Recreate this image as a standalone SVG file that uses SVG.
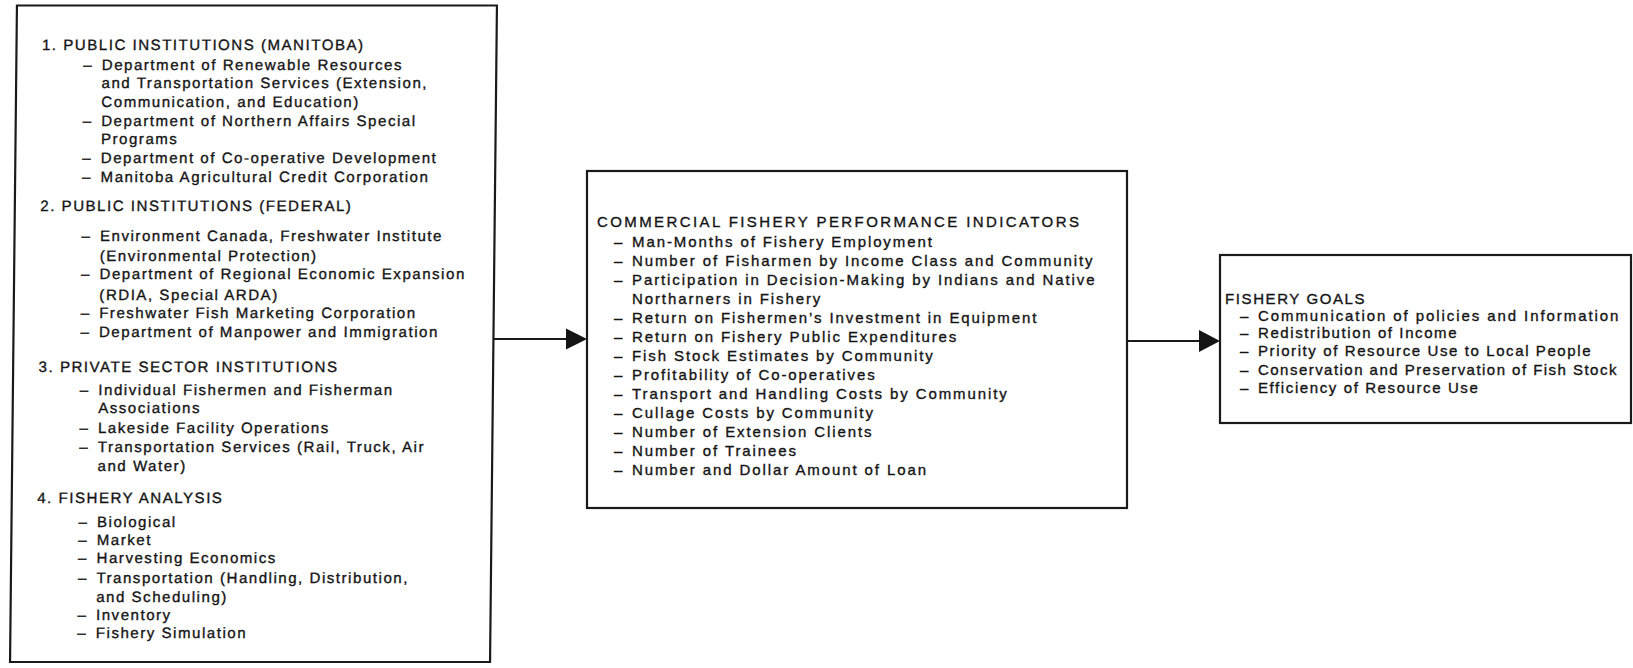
<svg xmlns="http://www.w3.org/2000/svg" width="1633" height="668" viewBox="0 0 1633 668">
<defs>
<style>
.box{fill:none;stroke:#1a1a1a;stroke-width:2.2}
.t{font-family:"Liberation Sans",Arial,sans-serif;font-size:15px;fill:#141414;stroke:#141414;stroke-width:0.35px;letter-spacing:1.55px}
.m{letter-spacing:1.9px}
.mh{letter-spacing:2.4px}
.r{letter-spacing:1.6px}
.ln{stroke:#1a1a1a;stroke-width:2.2;fill:none}
.ah{fill:#141414}
</style>
</defs>
<rect width="1633" height="668" fill="#ffffff"/>

<g id="node-institutions" transform="matrix(1 0 -0.0105 1 3.5 0)">
<rect class="box" x="13.5" y="5.5" width="480" height="656.5"/>
<g class="t">
<text x="39" y="50">1. PUBLIC INSTITUTIONS (MANITOBA)</text>
<text x="80.5" y="70">–<tspan x="99">Department of Renewable Resources</tspan></text>
<text x="99" y="88">and Transportation Services (Extension,</text>
<text x="99" y="107">Communication, and Education)</text>
<text x="80.5" y="126">–<tspan x="99">Department of Northern Affairs Special</tspan></text>
<text x="99" y="144">Programs</text>
<text x="80.5" y="163">–<tspan x="99">Department of Co-operative Development</tspan></text>
<text x="80.5" y="182">–<tspan x="99">Manitoba Agricultural Credit Corporation</tspan></text>
<text x="39" y="211">2. PUBLIC INSTITUTIONS (FEDERAL)</text>
<text x="80.5" y="241">–<tspan x="99">Environment Canada, Freshwater Institute</tspan></text>
<text x="99" y="261">(Environmental Protection)</text>
<text x="80.5" y="279">–<tspan x="99">Department of Regional Economic Expansion</tspan></text>
<text x="99" y="300">(RDIA, Special ARDA)</text>
<text x="80.5" y="318">–<tspan x="99">Freshwater Fish Marketing Corporation</tspan></text>
<text x="80.5" y="337">–<tspan x="99">Department of Manpower and Immigration</tspan></text>
<text x="39" y="372">3. PRIVATE SECTOR INSTITUTIONS</text>
<text x="80.5" y="395">–<tspan x="99">Individual Fishermen and Fisherman</tspan></text>
<text x="99" y="413">Associations</text>
<text x="80.5" y="433">–<tspan x="99">Lakeside Facility Operations</tspan></text>
<text x="80.5" y="452">–<tspan x="99">Transportation Services (Rail, Truck, Air</tspan></text>
<text x="99" y="471">and Water)</text>
<text x="39" y="503">4. FISHERY ANALYSIS</text>
<text x="80.5" y="527">–<tspan x="99">Biological</tspan></text>
<text x="80.5" y="545">–<tspan x="99">Market</tspan></text>
<text x="80.5" y="563">–<tspan x="99">Harvesting Economics</tspan></text>
<text x="80.5" y="583">–<tspan x="99">Transportation (Handling, Distribution,</tspan></text>
<text x="99" y="602">and Scheduling)</text>
<text x="80.5" y="620">–<tspan x="99">Inventory</tspan></text>
<text x="80.5" y="638">–<tspan x="99">Fishery Simulation</tspan></text>
</g>
</g>

<g id="node-indicators">
<rect class="box" x="587" y="171" width="540" height="337"/>
<g class="t m">
<text class="mh" x="597" y="227">COMMERCIAL FISHERY PERFORMANCE INDICATORS</text>
<text x="614" y="247">–<tspan x="632">Man-Months of Fishery Employment</tspan></text>
<text x="614" y="266">–<tspan x="632">Number of Fisharmen by Income Class and Community</tspan></text>
<text x="614" y="285">–<tspan x="632">Participation in Decision-Making by Indians and Native</tspan></text>
<text x="632" y="304">Northarners in Fishery</text>
<text x="614" y="323">–<tspan x="632">Return on Fishermen’s Investment in Equipment</tspan></text>
<text x="614" y="342">–<tspan x="632">Return on Fishery Public Expenditures</tspan></text>
<text x="614" y="361">–<tspan x="632">Fish Stock Estimates by Community</tspan></text>
<text x="614" y="380">–<tspan x="632">Profitability of Co-operatives</tspan></text>
<text x="614" y="399">–<tspan x="632">Transport and Handling Costs by Community</tspan></text>
<text x="614" y="418">–<tspan x="632">Cullage Costs by Community</tspan></text>
<text x="614" y="437">–<tspan x="632">Number of Extension Clients</tspan></text>
<text x="614" y="456">–<tspan x="632">Number of Trainees</tspan></text>
<text x="614" y="475">–<tspan x="632">Number and Dollar Amount of Loan</tspan></text>
</g>
</g>

<g id="node-goals">
<rect class="box" x="1220" y="255" width="411" height="168"/>
<g class="t r">
<text x="1225" y="304">FISHERY GOALS</text>
<text x="1240" y="321">–<tspan x="1258" textLength="362" lengthAdjust="spacing">Communication of policies and Information</tspan></text>
<text x="1240" y="338">–<tspan x="1258">Redistribution of Income</tspan></text>
<text x="1240" y="356">–<tspan x="1258">Priority of Resource Use to Local People</tspan></text>
<text x="1240" y="375">–<tspan x="1258" textLength="360" lengthAdjust="spacing">Conservation and Preservation of Fish Stock</tspan></text>
<text x="1240" y="393">–<tspan x="1258">Efficiency of Resource Use</tspan></text>
</g>
</g>

<g id="connectors">
<line class="ln" x1="493.5" y1="339" x2="567" y2="339"/>
<polygon class="ah" points="566,328.5 587,339 566,349.5"/>
<line class="ln" x1="1127" y1="341" x2="1200" y2="341"/>
<polygon class="ah" points="1199,330 1220,341 1199,352"/>
</g>
</svg>
